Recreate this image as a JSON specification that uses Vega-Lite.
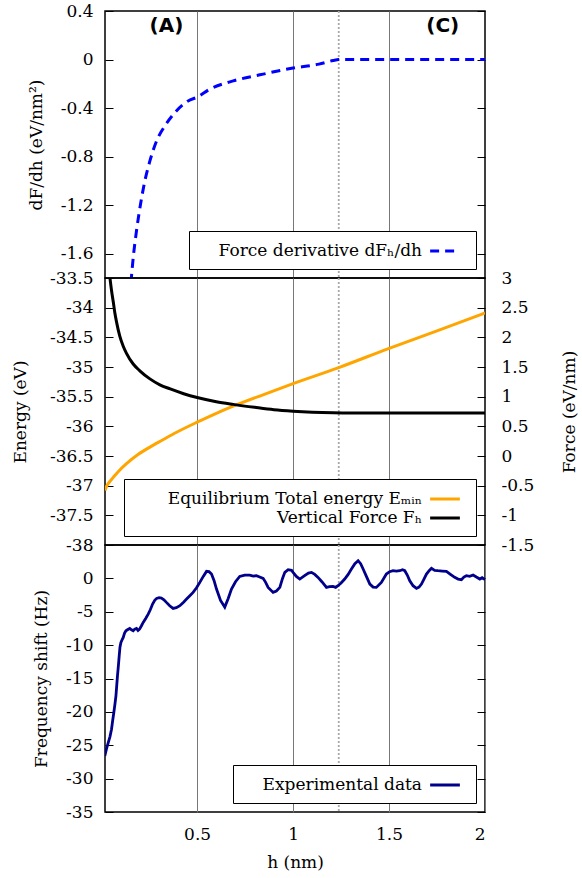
{
  "$schema": "https://vega.github.io/schema/vega-lite/v6.json",
  "padding": {"left": 10, "top": 1, "right": 0, "bottom": 0},
  "spacing": 0,
  "bounds": "flush",
  "config": {
    "font": "DejaVu Serif",
    "locale": {"number": {"decimal": ".", "thousands": ",", "grouping": [3], "currency": ["$", ""], "minus": "-"}},
    "view": {"stroke": "black", "strokeWidth": 1.5},
    "concat": {"spacing": 0},
    "axis": {
      "labelFont": "DejaVu Serif", "labelFontSize": 17, "labelColor": "black",
      "titleFont": "DejaVu Serif", "titleFontSize": 17, "titleFontWeight": "normal", "titleColor": "black",
      "domain": false, "grid": false, "tickColor": "black", "format": "~g"
    }
  },
  "resolve": {"scale": {"color": "independent"}, "legend": {"color": "independent"}},
  "datasets": {
    "marker": [{"h": 1.238}],
    "panelLabels": [{"label": "(A)", "h": 0.34, "v": 0.275}, {"label": "(C)", "h": 1.78, "v": 0.275}],
    "deriv": [
      {"h": 0.155, "v": -1.84}, {"h": 0.167, "v": -1.633}, {"h": 0.184, "v": -1.413}, {"h": 0.205, "v": -1.193},
      {"h": 0.224, "v": -1.028}, {"h": 0.254, "v": -0.835}, {"h": 0.289, "v": -0.67}, {"h": 0.332, "v": -0.547},
      {"h": 0.384, "v": -0.437}, {"h": 0.453, "v": -0.341}, {"h": 0.5, "v": -0.31}, {"h": 0.566, "v": -0.244},
      {"h": 0.688, "v": -0.176}, {"h": 0.827, "v": -0.126}, {"h": 1.0, "v": -0.07}, {"h": 1.135, "v": -0.038},
      {"h": 1.208, "v": -0.008}, {"h": 1.238, "v": 0}, {"h": 1.5, "v": 0}, {"h": 2.0, "v": 0}
    ],
    "energy": [
      {"h": 0.02, "E": -37.08}, {"h": 0.03, "E": -37.0}, {"h": 0.045, "E": -36.93}, {"h": 0.063, "E": -36.86},
      {"h": 0.09, "E": -36.76}, {"h": 0.132, "E": -36.63}, {"h": 0.19, "E": -36.48}, {"h": 0.254, "E": -36.35},
      {"h": 0.32, "E": -36.23}, {"h": 0.393, "E": -36.1}, {"h": 0.5, "E": -35.93}, {"h": 0.6, "E": -35.78},
      {"h": 0.688, "E": -35.66}, {"h": 0.85, "E": -35.46}, {"h": 1.0, "E": -35.28}, {"h": 1.238, "E": -35.01},
      {"h": 1.497, "E": -34.69}, {"h": 1.75, "E": -34.39}, {"h": 2.0, "E": -34.09}
    ],
    "force": [
      {"h": 0.044, "F": 3.05}, {"h": 0.054, "F": 2.79}, {"h": 0.063, "F": 2.6}, {"h": 0.071, "F": 2.42},
      {"h": 0.08, "F": 2.26}, {"h": 0.097, "F": 2.02}, {"h": 0.115, "F": 1.85}, {"h": 0.132, "F": 1.73},
      {"h": 0.167, "F": 1.55}, {"h": 0.2, "F": 1.44}, {"h": 0.254, "F": 1.3}, {"h": 0.306, "F": 1.2},
      {"h": 0.36, "F": 1.13}, {"h": 0.43, "F": 1.05}, {"h": 0.5, "F": 0.985}, {"h": 0.6, "F": 0.915},
      {"h": 0.688, "F": 0.87}, {"h": 0.8, "F": 0.82}, {"h": 0.9, "F": 0.78}, {"h": 1.0, "F": 0.755},
      {"h": 1.1, "F": 0.738}, {"h": 1.21, "F": 0.728}, {"h": 1.3, "F": 0.725}, {"h": 2.0, "F": 0.725}
    ],
    "exp": [
      {"h": 0.019, "f": -26.6}, {"h": 0.028, "f": -25.5}, {"h": 0.037, "f": -24.6}, {"h": 0.046, "f": -23.7},
      {"h": 0.054, "f": -22.6}, {"h": 0.06, "f": -21.3}, {"h": 0.066, "f": -20.1}, {"h": 0.072, "f": -18.8},
      {"h": 0.077, "f": -17.6}, {"h": 0.081, "f": -16.1}, {"h": 0.085, "f": -14.6}, {"h": 0.09, "f": -13.0},
      {"h": 0.094, "f": -11.6}, {"h": 0.098, "f": -10.3}, {"h": 0.103, "f": -9.6}, {"h": 0.109, "f": -9.2},
      {"h": 0.115, "f": -8.85}, {"h": 0.122, "f": -8.2}, {"h": 0.129, "f": -7.85}, {"h": 0.137, "f": -7.7},
      {"h": 0.149, "f": -7.5}, {"h": 0.158, "f": -7.7}, {"h": 0.167, "f": -7.85}, {"h": 0.175, "f": -7.6},
      {"h": 0.184, "f": -7.5}, {"h": 0.192, "f": -7.8}, {"h": 0.2, "f": -7.6}, {"h": 0.21, "f": -7.1},
      {"h": 0.219, "f": -6.6}, {"h": 0.232, "f": -6.0}, {"h": 0.245, "f": -5.35}, {"h": 0.256, "f": -4.7},
      {"h": 0.268, "f": -3.85}, {"h": 0.279, "f": -3.3}, {"h": 0.289, "f": -3.0}, {"h": 0.302, "f": -2.9},
      {"h": 0.314, "f": -2.95}, {"h": 0.327, "f": -3.2}, {"h": 0.34, "f": -3.6}, {"h": 0.357, "f": -4.1},
      {"h": 0.375, "f": -4.5}, {"h": 0.392, "f": -4.4}, {"h": 0.41, "f": -4.1}, {"h": 0.428, "f": -3.6},
      {"h": 0.445, "f": -3.1}, {"h": 0.462, "f": -2.6}, {"h": 0.479, "f": -2.1}, {"h": 0.497, "f": -1.4},
      {"h": 0.514, "f": -0.6}, {"h": 0.532, "f": 0.3}, {"h": 0.549, "f": 1.05}, {"h": 0.562, "f": 1.0},
      {"h": 0.575, "f": 0.65}, {"h": 0.588, "f": -0.3}, {"h": 0.601, "f": -1.6}, {"h": 0.622, "f": -3.3},
      {"h": 0.644, "f": -4.3}, {"h": 0.662, "f": -3.0}, {"h": 0.679, "f": -1.6}, {"h": 0.7, "f": -0.5},
      {"h": 0.722, "f": 0.3}, {"h": 0.748, "f": 0.5}, {"h": 0.774, "f": 0.5}, {"h": 0.792, "f": 0.35},
      {"h": 0.809, "f": 0.4}, {"h": 0.826, "f": 0.2}, {"h": 0.844, "f": 0.0}, {"h": 0.857, "f": -0.6},
      {"h": 0.87, "f": -1.35}, {"h": 0.896, "f": -2.1}, {"h": 0.913, "f": -1.9}, {"h": 0.931, "f": -1.35},
      {"h": 0.945, "f": 0.0}, {"h": 0.957, "f": 0.9}, {"h": 0.974, "f": 1.3}, {"h": 0.992, "f": 1.2},
      {"h": 1.0, "f": 0.9}, {"h": 1.017, "f": 0.3}, {"h": 1.035, "f": -0.1}, {"h": 1.06, "f": 0.4},
      {"h": 1.08, "f": 0.8}, {"h": 1.096, "f": 0.9}, {"h": 1.113, "f": 0.6}, {"h": 1.13, "f": 0.15},
      {"h": 1.15, "f": -0.5}, {"h": 1.174, "f": -1.35}, {"h": 1.19, "f": -1.25}, {"h": 1.208, "f": -1.2},
      {"h": 1.222, "f": -1.35}, {"h": 1.234, "f": -1.1}, {"h": 1.25, "f": -0.7}, {"h": 1.269, "f": -0.1},
      {"h": 1.287, "f": 0.6}, {"h": 1.304, "f": 1.4}, {"h": 1.322, "f": 2.2}, {"h": 1.339, "f": 2.65},
      {"h": 1.352, "f": 2.2}, {"h": 1.365, "f": 1.4}, {"h": 1.382, "f": 0.3}, {"h": 1.4, "f": -0.85},
      {"h": 1.417, "f": -1.3}, {"h": 1.434, "f": -1.35}, {"h": 1.46, "f": -0.6}, {"h": 1.486, "f": 0.65},
      {"h": 1.503, "f": 1.0}, {"h": 1.521, "f": 1.15}, {"h": 1.538, "f": 1.1}, {"h": 1.556, "f": 1.15},
      {"h": 1.57, "f": 1.3}, {"h": 1.582, "f": 1.15}, {"h": 1.595, "f": 0.5}, {"h": 1.608, "f": -0.35},
      {"h": 1.625, "f": -1.1}, {"h": 1.643, "f": -1.5}, {"h": 1.656, "f": -1.3}, {"h": 1.669, "f": -0.85},
      {"h": 1.682, "f": -0.1}, {"h": 1.695, "f": 0.65}, {"h": 1.71, "f": 1.2}, {"h": 1.721, "f": 1.5},
      {"h": 1.738, "f": 1.2}, {"h": 1.755, "f": 1.15}, {"h": 1.777, "f": 1.1}, {"h": 1.799, "f": 1.05},
      {"h": 1.82, "f": 0.6}, {"h": 1.842, "f": 0.15}, {"h": 1.86, "f": -0.1}, {"h": 1.877, "f": -0.2},
      {"h": 1.89, "f": 0.2}, {"h": 1.903, "f": 0.4}, {"h": 1.92, "f": 0.3}, {"h": 1.938, "f": 0.5},
      {"h": 1.955, "f": 0.2}, {"h": 1.973, "f": -0.1}, {"h": 1.985, "f": 0.1}, {"h": 2.0, "f": -0.2}
    ]
  },
  "vconcat": [
    {
      "width": 380, "height": 267,
      "resolve": {"axis": {"y": "independent"}},
      "layer": [
        {
          "data": {"name": "marker"},
          "mark": {"type": "rule", "color": "#a8a8a8", "strokeWidth": 1.8, "strokeDash": [2, 2]},
          "encoding": {"x": {"field": "h", "type": "quantitative", "scale": {"domain": [0.02, 2], "nice": false}}}
        },
        {
          "data": {"name": "deriv"},
          "mark": {"type": "line", "clip": true, "strokeWidth": 3, "strokeDash": [9, 6], "interpolate": "monotone"},
          "encoding": {
            "x": {"field": "h", "type": "quantitative", "scale": {"domain": [0.02, 2], "nice": false},
                  "axis": {"title": null, "labels": false, "ticks": false, "grid": true, "values": [0.5, 1, 1.5], "gridColor": "#777"}},
            "y": {"field": "v", "type": "quantitative", "scale": {"domain": [-1.8, 0.4], "nice": false},
                  "axis": {"title": "dF/dh (eV/nm²)", "values": [-1.6, -1.2, -0.8, -0.4, 0, 0.4], "tickSize": -8, "labelPadding": 20, "titlePadding": 15}},
            "color": {"datum": "Force derivative dFₕ/dh", "type": "nominal", "scale": {"range": ["#0000ff"]},
                      "legend": {"title": null, "orient": "bottom-right", "offset": 9, "fillColor": "white", "strokeColor": "black", "padding": 10,
                                 "symbolType": "M -1.75 0 L 1.75 0", "symbolSize": 289, "symbolStrokeWidth": 3, "symbolDash": [9, 6], "symbolFillColor": "transparent",
                                 "labelAlign": "right", "labelOffset": -33, "symbolOffset": 236, "labelFont": "DejaVu Serif", "labelFontSize": 17, "labelLimit": 0, "labelColor": "black"}}
          }
        },
        {
          "data": {"name": "panelLabels"},
          "mark": {"type": "text", "font": "DejaVu Sans", "fontWeight": "bold", "fontSize": 20, "color": "black"},
          "encoding": {
            "x": {"field": "h", "type": "quantitative", "scale": {"domain": [0.02, 2], "nice": false}},
            "y": {"field": "v", "type": "quantitative", "scale": {"domain": [-1.8, 0.4], "nice": false},
                  "axis": {"orient": "right", "title": null, "labels": false, "values": [-1.6, -1.2, -0.8, -0.4, 0, 0.4], "tickSize": -8}},
            "text": {"field": "label"}
          }
        }
      ]
    },
    {
      "width": 380, "height": 267,
      "resolve": {"scale": {"y": "independent"}},
      "layer": [
        {
          "data": {"name": "marker"},
          "mark": {"type": "rule", "color": "#a8a8a8", "strokeWidth": 1.8, "strokeDash": [2, 2]},
          "encoding": {"x": {"field": "h", "type": "quantitative", "scale": {"domain": [0.02, 2], "nice": false}}}
        },
        {
          "data": {"name": "energy"},
          "mark": {"type": "line", "clip": true, "strokeWidth": 3, "interpolate": "monotone"},
          "encoding": {
            "x": {"field": "h", "type": "quantitative", "scale": {"domain": [0.02, 2], "nice": false},
                  "axis": {"title": null, "labels": false, "ticks": false, "grid": true, "values": [0.5, 1, 1.5], "gridColor": "#777"}},
            "y": {"field": "E", "type": "quantitative", "scale": {"domain": [-38, -33.5], "nice": false},
                  "axis": {"title": "Energy (eV)", "values": [-38, -37.5, -37, -36.5, -36, -35.5, -35, -34.5, -34, -33.5], "tickSize": -8, "labelPadding": 20, "titlePadding": 20}},
            "color": {"datum": "Equilibrium Total energy Eₘᵢₙ", "type": "nominal",
                      "scale": {"domain": ["Equilibrium Total energy Eₘᵢₙ", "Vertical Force Fₕ"], "range": ["#ffa500", "#000000"]},
                      "legend": {"title": null, "orient": "bottom-right", "offset": 9, "fillColor": "white", "strokeColor": "black", "padding": 10, "rowPadding": 1,
                                 "symbolType": "M -1.75 0 L 1.75 0", "symbolSize": 289, "symbolStrokeWidth": 3, "symbolFillColor": "transparent",
                                 "labelAlign": "right", "labelOffset": -33, "symbolOffset": 301, "labelFont": "DejaVu Serif", "labelFontSize": 17, "labelLimit": 0, "labelColor": "black"}}
          }
        },
        {
          "data": {"name": "force"},
          "mark": {"type": "line", "clip": true, "strokeWidth": 3, "interpolate": "monotone"},
          "encoding": {
            "x": {"field": "h", "type": "quantitative", "scale": {"domain": [0.02, 2], "nice": false}},
            "y": {"field": "F", "type": "quantitative", "scale": {"domain": [-1.5, 3], "nice": false},
                  "axis": {"orient": "right", "title": "Force (eV/nm)", "titleAngle": -90, "values": [-1.5, -1, -0.5, 0, 0.5, 1, 1.5, 2, 2.5, 3], "tickSize": -8, "labelPadding": 24, "titlePadding": 45}},
            "color": {"datum": "Vertical Force Fₕ", "type": "nominal",
                      "scale": {"domain": ["Equilibrium Total energy Eₘᵢₙ", "Vertical Force Fₕ"], "range": ["#ffa500", "#000000"]}}
          }
        }
      ]
    },
    {
      "width": 380, "height": 267,
      "resolve": {"axis": {"y": "independent"}},
      "layer": [
        {
          "data": {"name": "marker"},
          "mark": {"type": "rule", "color": "#a8a8a8", "strokeWidth": 1.8, "strokeDash": [2, 2]},
          "encoding": {"x": {"field": "h", "type": "quantitative", "scale": {"domain": [0.02, 2], "nice": false}}}
        },
        {
          "data": {"name": "exp"},
          "mark": {"type": "line", "clip": true, "strokeWidth": 2.8},
          "encoding": {
            "x": {"field": "h", "type": "quantitative", "scale": {"domain": [0.02, 2], "nice": false},
                  "axis": {"title": "h (nm)", "ticks": false, "grid": true, "values": [0.5, 1, 1.5, 2], "gridColor": "#777", "labelPadding": 14, "titlePadding": 12}},
            "y": {"field": "f", "type": "quantitative", "scale": {"domain": [-35, 5], "nice": false},
                  "axis": {"title": "Frequency shift (Hz)", "values": [-35, -30, -25, -20, -15, -10, -5, 0], "tickSize": -8, "labelPadding": 20, "titlePadding": 15}},
            "color": {"datum": "Experimental data", "type": "nominal", "scale": {"range": ["#00008b"]},
                      "legend": {"title": null, "orient": "bottom-right", "offset": 9, "fillColor": "white", "strokeColor": "black", "padding": 10,
                                 "symbolType": "M -1.75 0 L 1.75 0", "symbolSize": 289, "symbolStrokeWidth": 3, "symbolFillColor": "transparent",
                                 "labelAlign": "right", "labelOffset": -33, "symbolOffset": 192, "labelFont": "DejaVu Serif", "labelFontSize": 17, "labelLimit": 0, "labelColor": "black"}}
          }
        },
        {
          "data": {"name": "exp"},
          "mark": {"type": "line", "opacity": 0},
          "encoding": {
            "x": {"field": "h", "type": "quantitative", "scale": {"domain": [0.02, 2], "nice": false}},
            "y": {"field": "f", "type": "quantitative", "scale": {"domain": [-35, 5], "nice": false},
                  "axis": {"orient": "right", "title": null, "labels": false, "values": [-35, -30, -25, -20, -15, -10, -5, 0], "tickSize": -8}}
          }
        }
      ]
    }
  ]
}
